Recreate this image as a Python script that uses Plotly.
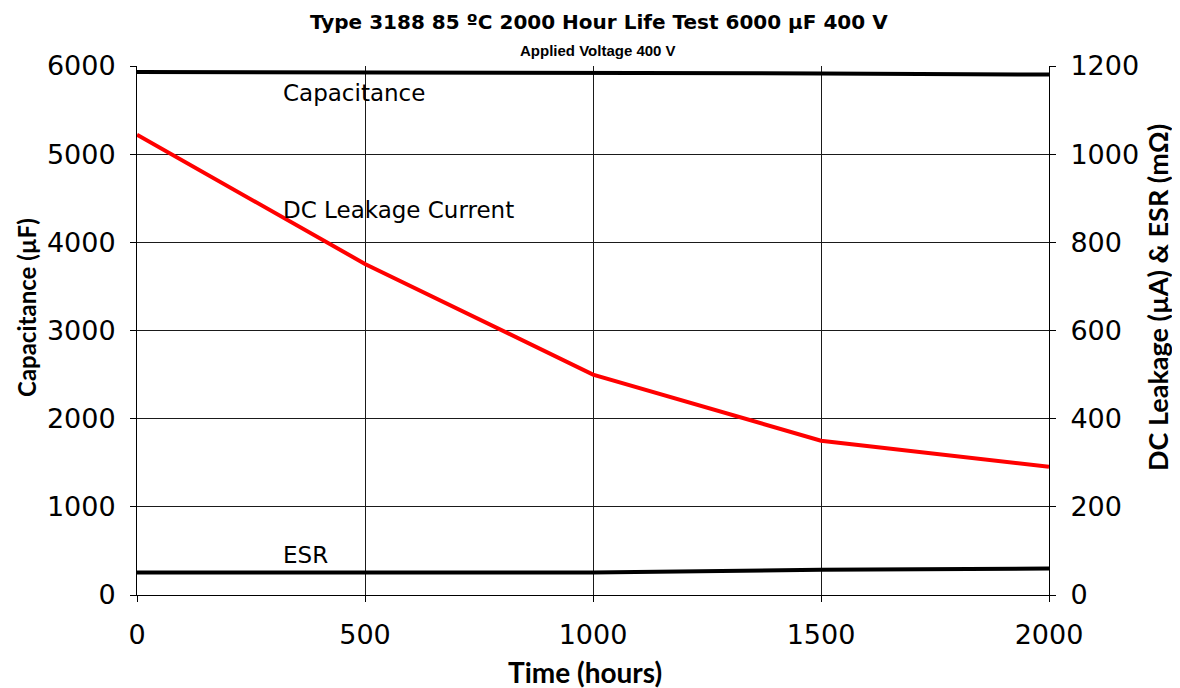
import plotly.graph_objects as go

hours = [0, 500, 1000, 1500, 2000]
capacitance_uF = [5932, 5930, 5925, 5915, 5903]
dc_leakage_uA = [1044, 751, 500, 350, 291]
esr_mohm = [51, 51, 51, 57, 60]

title_text = "Type 3188 85 ºC 2000 Hour Life Test 6000 µF 400 V"
subtitle_text = "Applied Voltage 400 V"
x_title = "Time (hours)"
y_title = "Capacitance (µF)"
y2_title = "DC Leakage (µA) & ESR (mΩ)"

OFF = 8  # page body margin
W, H = 1180, 688
ML, MR, MT, MB = 137 - OFF, 131 + OFF, 66 - OFF, 93 + OFF
W_plot = W - ML - MR
H_plot = H - MT - MB


def px(xp, yp):
    xp -= OFF
    yp -= OFF
    return (xp - ML) / W_plot, (H - MB - yp) / H_plot


fig = go.Figure()
fig.add_trace(go.Scatter(x=hours, y=capacitance_uF, mode="lines",
                         line=dict(color="black", width=4), name="Capacitance",
                         yaxis="y"))
fig.add_trace(go.Scatter(x=hours, y=dc_leakage_uA, mode="lines",
                         line=dict(color="#ff0000", width=4), name="DC Leakage Current",
                         yaxis="y2"))
fig.add_trace(go.Scatter(x=hours, y=esr_mohm, mode="lines",
                         line=dict(color="black", width=4), name="ESR",
                         yaxis="y2"))

tickfont = dict(family="DejaVu Sans", size=27, color="black")
boldfam = "Lato, Open Sans"
labfont = dict(family="DejaVu Sans", size=23, color="black")

common = dict(showline=True, linecolor="black", linewidth=1,
              ticks="outside", ticklen=6, tickcolor="black",
              tickfont=tickfont, zeroline=False, automargin=False)

fig.update_layout(
    width=W, height=H,
    margin=dict(l=ML, r=MR, t=MT, b=MB, autoexpand=False),
    paper_bgcolor="white", plot_bgcolor="white",
    showlegend=False,
    xaxis=dict(range=[0, 2000], tickvals=hours, ticklabelstandoff=10,
               showgrid=True, gridcolor="#1a1a1a", gridwidth=1, **common),
    yaxis=dict(range=[0, 6000], tickvals=[0, 1000, 2000, 3000, 4000, 5000, 6000],
               ticklabelstandoff=9,
               showgrid=True, gridcolor="#1a1a1a", gridwidth=1, **common),
    yaxis2=dict(range=[0, 1200], tickvals=[0, 200, 400, 600, 800, 1000, 1200],
                ticklabelstandoff=9,
                overlaying="y", side="right", showgrid=False, **common),
)

anns = []


def add_paper(text, xp, yp, font, angle=0):
    ax, ay = px(xp, yp)
    anns.append(dict(text=text, x=ax, y=ay, xref="paper", yref="paper", showarrow=False,
                     xanchor="center", yanchor="middle", textangle=angle, font=font))


add_paper(title_text, 599, 22, dict(family="DejaVu Sans", size=20, color="black", weight="bold"))
add_paper(subtitle_text, 598, 51, dict(family="Arial, Liberation Sans", size=15, color="black", weight="bold"))
add_paper(x_title, 585, 672, dict(family=boldfam, size=28, color="black", weight="bold"))
add_paper(y_title, 26, 308, dict(family=boldfam, size=24, color="black", weight="bold"), -90)
add_paper(y2_title, 1157, 298, dict(family=boldfam, size=27, color="black", weight="bold"), -90)

for txt, yv in [("Capacitance", 5696), ("DC Leakage Current", 4368), ("ESR", 452)]:
    anns.append(dict(text=txt, x=316, y=yv, xref="x", yref="y", xanchor="left",
                     yanchor="middle", showarrow=False, font=labfont))

fig.update_layout(annotations=anns)

fig.write_html("out.html")
